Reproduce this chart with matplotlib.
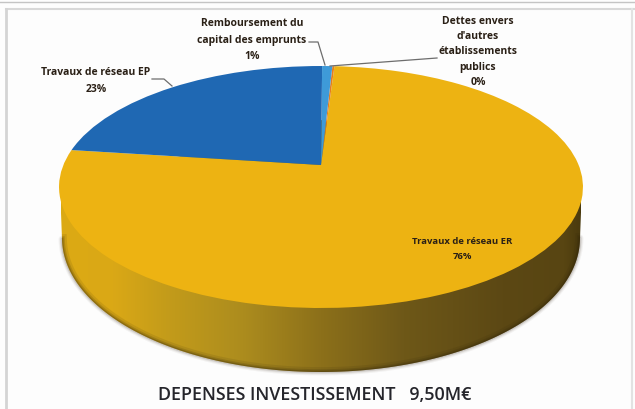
import matplotlib
matplotlib.use("Agg")
import matplotlib.pyplot as plt
import numpy as np
from matplotlib.colors import LinearSegmentedColormap
from matplotlib.patches import Polygon
from matplotlib.transforms import Transform

# pie values, order is counter clockwise starting from the left edge of ER
categories = ["Travaux de réseau ER", "Dettes envers\nd'autres\nétablissements\npublics",
              "Remboursement du\ncapital des emprunts", "Travaux de réseau EP"]
values = [76.1, 0.15, 0.75, 23.0]
percent_labels = ["76%", "0%", "1%", "23%"]
colours = ["#EDB312", "#E57F1C", "#3E9AD8", "#1F68B3"]

title_text = "DEPENSES INVESTISSEMENT   9,50M€"

# where things sit on the picture, in pixels
CX, CY = 321, 165
PERSP_A, PERSP_B, PERSP_K = 257.6, 117.0, 0.1818
label_pos = [(462, 249), (478, 52), (252, 40), (96, 81)]
label_size = [6.8, 7.5, 7.5, 7.5]
label_spacing = [1.79, 1.55, 1.67, 1.67]


class Perspective(Transform):
    # tilts the unit disc of the pie towards the viewer
    input_dims = 2
    output_dims = 2

    def transform_non_affine(self, xy):
        xy = np.asarray(xy, dtype=float)
        w = 1 + PERSP_K * xy[:, 1]
        return np.column_stack((CX + PERSP_A * xy[:, 0] / w, CY - PERSP_B * xy[:, 1] / w))


fig = plt.figure(figsize=(6.35, 4.09), dpi=100, facecolor="#fdfdfd")
ax = fig.add_axes([0, 0, 1, 1])

wedges, _ = ax.pie(values, colors=colours, startangle=172.5, radius=1.0)
ax.set_aspect("auto")
ax.set_xlim(0, 635)
ax.set_ylim(409, 0)
ax.axis("off")

persp = Perspective()
for w in wedges:
    w.set_transform(persp + ax.transData)
    w.set_zorder(5)

# side wall of the cake
t = np.linspace(0, 2 * np.pi, 400)
wall_x = 321 + 259 * np.cos(t)
wall_y = 238 + 134 * np.sin(t)
wall_outline = np.vstack((np.column_stack((wall_x[:200], wall_y[:200])),
                          [[60, 187]], [[321, 120]], [[582, 187]]))

wall_cmap = LinearSegmentedColormap.from_list("wall", [
    (0.00, "#dcaa14"), (0.10, "#daa816"), (0.20, "#c49c1a"), (0.35, "#ac8c1e"),
    (0.50, "#8c701a"), (0.66, "#6e5818"), (0.85, "#5c4814"), (0.97, "#584512"),
    (1.00, "#4a3a0e")])
# soft shadow under the wall
for lw, a in ((5, 0.05), (3.5, 0.08), (2, 0.14)):
    ax.plot(wall_x[:200], wall_y[:200], color="#3a3020", lw=lw, alpha=a, zorder=2,
            solid_capstyle="round")
img = ax.imshow(np.linspace(0, 1, 256)[None, :], cmap=wall_cmap, aspect="auto",
                extent=(61, 581, 409, 100), zorder=3, interpolation="bilinear")
clip = Polygon(wall_outline, closed=True, transform=ax.transData, fc="none", ec="none")
ax.add_patch(clip)
img.set_clip_path(clip)
ax.set_xlim(0, 635)
ax.set_ylim(409, 0)

# darker lip along the bottom of the wall
for lw, a in ((7, 0.10), (4, 0.16), (2, 0.25)):
    line, = ax.plot(wall_x[:200], wall_y[:200], color="#2e240a", lw=lw, alpha=a, zorder=4)
    line.set_clip_path(clip)

# labels
for name, pct, (lx, ly), size, spacing in zip(categories, percent_labels, label_pos,
                                              label_size, label_spacing):
    ax.text(lx, ly, name + "\n" + pct, ha="center", va="center", fontsize=size,
            fontweight="bold", family="Open Sans", color="#2a2016", linespacing=spacing, zorder=7)

# leader lines
ax.plot([152, 164, 172], [79, 79, 86], color="#6d6d6d", lw=0.9, zorder=6)
ax.plot([309, 318, 325], [42, 42, 65], color="#6d6d6d", lw=0.9, zorder=6)
ax.plot([330, 437], [66, 58], color="#6d6d6d", lw=0.9, zorder=6)

ax.text(315, 395, title_text, ha="center", va="center", fontsize=12.9,
        family="Open Sans", fontweight="semibold", color="#25252b", zorder=7)

# scanned frame
ax.plot([0, 635], [2, 2], color="#c4c4c4", lw=1.0, zorder=1)
ax.plot([6, 635], [9, 9], color="#d8d8d8", lw=1.5, zorder=1)
ax.plot([6, 6], [9, 409], color="#d4d4d4", lw=2.0, zorder=1)
ax.plot([632, 632], [9, 409], color="#e2e2e2", lw=1.5, zorder=1)

fig.savefig("out.png", dpi=100, facecolor=fig.get_facecolor())
